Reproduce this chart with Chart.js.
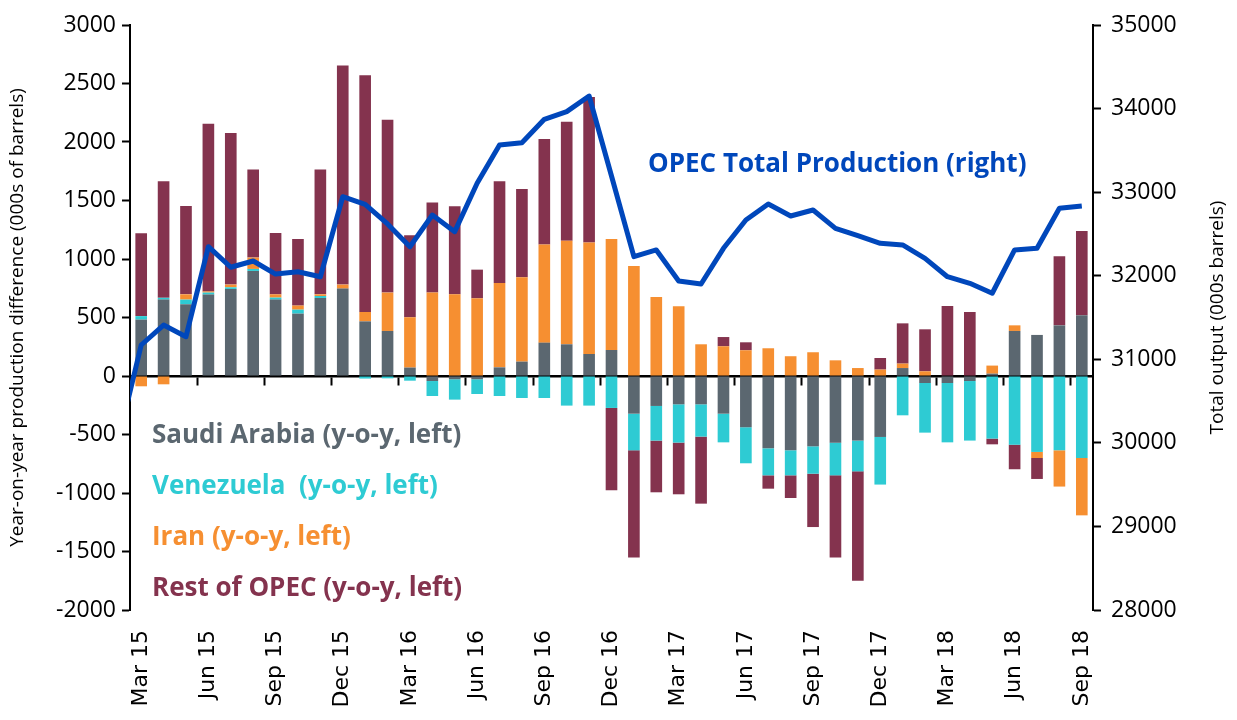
<!DOCTYPE html>
<html>
<head>
<meta charset="utf-8">
<script src="https://cdn.jsdelivr.net/npm/chart.js@4/dist/chart.umd.min.js"></script>
<style>
  html, body { margin: 0; padding: 0; background: #fff; }
  #wrap { width: 1237px; height: 720px; }
</style>
</head>
<body>
<div id="wrap"><canvas id="chart"></canvas></div>
<script>
// months, Mar 15 .. Sep 18
const months = [
  'Mar 15', 'Apr 15', 'May 15', 'Jun 15', 'Jul 15', 'Aug 15', 'Sep 15', 'Oct 15', 'Nov 15', 'Dec 15',
  'Jan 16', 'Feb 16', 'Mar 16', 'Apr 16', 'May 16', 'Jun 16', 'Jul 16', 'Aug 16', 'Sep 16', 'Oct 16', 'Nov 16', 'Dec 16',
  'Jan 17', 'Feb 17', 'Mar 17', 'Apr 17', 'May 17', 'Jun 17', 'Jul 17', 'Aug 17', 'Sep 17', 'Oct 17', 'Nov 17', 'Dec 17',
  'Jan 18', 'Feb 18', 'Mar 18', 'Apr 18', 'May 18', 'Jun 18', 'Jul 18', 'Aug 18', 'Sep 18'
];

// y-o-y change, 000s of barrels (left axis)
const saudi = [482, 653, 613, 696, 744, 898, 653, 533, 667, 747,
  467, 385, 72, -43, -28, -28, 74, 123, 285, 271, 188, 222,
  -322, -256, -242, -242, -322, -438, -618, -635, -601, -570, -552, -521,
  68, -60, -60, -43, 20, 385, 351, 433, 519];
const venezuela = [30, 15, 40, 17, 14, 17, 17, 34, 17, 0,
  -22, -20, -40, -128, -174, -126, -171, -188, -188, -253, -253, -273,
  -313, -296, -327, -276, -245, -308, -231, -214, -234, -279, -263, -407,
  -336, -424, -507, -509, -535, -587, -649, -635, -701];
const iran = [-88, -71, 45, 10, 23, 97, 28, 35, 14, 34,
  80, 328, 430, 713, 698, 664, 721, 721, 838, 886, 952, 949,
  940, 675, 596, 271, 254, 220, 237, 169, 203, 134, 68, 55,
  38, 40, 0, 0, 69, 48, -52, -310, -490];
const restOfOpec = [709, 997, 755, 1434, 1296, 752, 524, 569, 1066, 1872,
  2023, 1478, 701, 769, 752, 245, 869, 754, 903, 1017, 1245, -704,
  -917, -442, -442, -573, 79, 68, -114, -194, -456, -703, -934, 99,
  344, 359, 598, 547, -49, -210, -179, 590, 720];

// OPEC total output, 000s barrels (right axis); first value is Feb 15, just left of the plot
const opecTotal = [30050,
  31171, 31410, 31270, 32347, 32101, 32176, 32020, 32048, 31988, 32945,
  32855, 32619, 32347, 32726, 32527, 33106, 33564, 33592, 33872, 33963, 34150, 33193,
  32228, 32308, 31937, 31901, 32328, 32667, 32858, 32715, 32786, 32567, 32479, 32388,
  32368, 32208, 31988, 31909, 31790, 32308, 32328, 32807, 32834];

const seriesNames = ['Saudi Arabia (y-o-y, left)', 'Venezuela  (y-o-y, left)', 'Iran (y-o-y, left)', 'Rest of OPEC (y-o-y, left)'];
const seriesColors = ['#5b6770', '#2ecbd3', '#f68f31', '#84334e'];
const lineColor = '#0047bb';

// Feb 15 sits at index 0, outside the visible range, only so the line runs in from the edge
const labels = ['Feb 15', ...months];

const FONT = '"Open Sans", sans-serif';
Chart.defaults.font.family = FONT;
Chart.defaults.color = '#000';

// text labels drawn on the plot (Excel style legend)
const notes = {
  id: 'notes',
  afterDraw(chart) {
    const ctx = chart.ctx;
    const a = chart.chartArea;
    ctx.save();
    ctx.textBaseline = 'middle';
    ctx.font = 'bold 26px ' + FONT;
    seriesNames.forEach((name, i) => {
      ctx.fillStyle = seriesColors[i];
      ctx.fillText(name, a.left + 22, 436 + i * 51);
    });
    ctx.fillStyle = lineColor;
    ctx.fillText('OPEC Total Production (right)', 648, 165);

    ctx.font = '19px ' + FONT;
    ctx.fillStyle = '#000';
    ctx.textAlign = 'center';
    ctx.translate(1218, (a.top + a.bottom) / 2);
    ctx.rotate(-Math.PI / 2);
    ctx.fillText('Total output (000s barrels)', 0, 0);
    ctx.restore();
  }
};

const barSets = [saudi, venezuela, iran, restOfOpec].map((vals, i) => ({
  type: 'bar',
  label: seriesNames[i],
  data: [null, ...vals],
  backgroundColor: seriesColors[i],
  borderWidth: 0,
  barPercentage: 0.52,
  categoryPercentage: 1,
  yAxisID: 'y',
  order: 1
}));

const plain = v => String(v);

new Chart(document.getElementById('chart'), {
  type: 'bar',
  data: {
    labels: labels,
    datasets: [
      {
        type: 'line',
        label: 'OPEC Total Production (right)',
        data: opecTotal,
        borderColor: lineColor,
        borderWidth: 5,
        borderJoinStyle: 'round',
        pointRadius: 0,
        tension: 0,
        yAxisID: 'y1',
        clip: 0,
        order: 0
      },
      ...barSets
    ]
  },
  plugins: [notes],
  options: {
    responsive: true,
    maintainAspectRatio: false,
    animation: false,
    layout: { padding: { top: 25, left: 0, right: 0, bottom: 0 } },
    plugins: { legend: { display: false }, tooltip: { enabled: false } },
    scales: {
      x: {
        type: 'category',
        min: 'Mar 15',
        stacked: true,
        offset: true,
        grid: { display: false, drawTicks: false },
        border: { display: false },
        ticks: {
          autoSkip: false,
          maxRotation: 90,
          minRotation: 90,
          padding: 20,
          font: { size: 22, family: '"DejaVu Sans", sans-serif' },
          callback: function (v, i) { return i % 3 === 0 ? this.getLabelForValue(v) : ''; }
        },
        afterFit: s => { s.height = 110; }
      },
      xz: {
        type: 'category',
        min: 'Mar 15',
        position: { y: 0 },
        offset: true,
        grid: {
          offset: true,
          drawOnChartArea: false,
          tickLength: 8,
          tickWidth: 2,
          color: c => c.index % 3 === 0 ? '#000' : 'rgba(0,0,0,0)'
        },
        border: { color: '#000', width: 2.5 },
        ticks: { display: false }
      },
      y: {
        position: 'left',
        stacked: true,
        min: -2000,
        max: 3000,
        ticks: { stepSize: 500, padding: 6, font: { size: 23 }, callback: plain },
        grid: { drawOnChartArea: false, tickLength: 8, tickWidth: 2, color: '#000' },
        border: { color: '#000', width: 2 },
        title: {
          display: true,
          text: 'Year-on-year production difference (000s of barrels)',
          font: { size: 19 },
          padding: { top: 6, bottom: 0 }
        },
        afterFit: s => { s.width = 130; }
      },
      y1: {
        position: 'right',
        min: 28000,
        max: 35000,
        ticks: { stepSize: 1000, padding: 10, font: { size: 23 }, callback: plain },
        grid: { drawOnChartArea: false, tickLength: 8, tickWidth: 2, color: '#000' },
        border: { color: '#000', width: 2 },
        afterFit: s => { s.width = 144; }
      }
    }
  }
});
</script>
</body>
</html>
